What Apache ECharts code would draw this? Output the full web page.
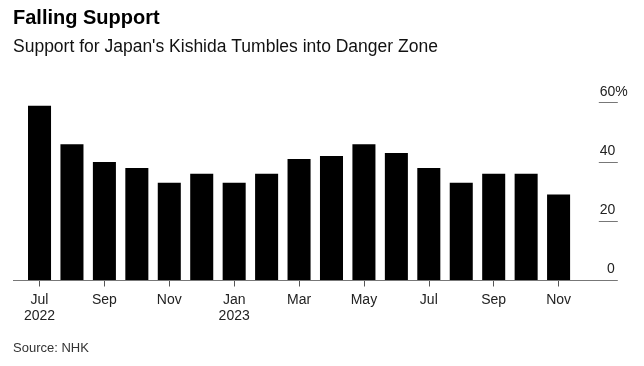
<!DOCTYPE html>
<html>
<head>
<meta charset="utf-8">
<script src="https://cdn.jsdelivr.net/npm/echarts@6/dist/echarts.min.js"></script>
<style>
html,body{margin:0;padding:0;background:#fff;}
#chart{width:644px;height:366px;}
</style>
</head>
<body>
<div id="chart"></div>
<script>
// Data
var months = ['Jul','Aug','Sep','Oct','Nov','Dec','Jan','Feb','Mar','Apr','May','Jun','Jul','Aug','Sep','Oct','Nov'];
var years  = ['2022','','','','','','2023','','','','','','','','','',''];
var support = [59,46,40,38,33,36,33,36,41,42,46,43,38,33,36,36,29];
var yTicks = [0,20,40,60];

var categories = months.map(function(m,i){ return years[i] ? m + '\n' + years[i] : m; });

var FONT = '"Liberation Sans", Arial, Helvetica, sans-serif';
var chart = echarts.init(document.getElementById('chart'), null, {renderer:'canvas'});

var option = {
  animation: false,
  backgroundColor: '#fff',
  title: [
    {text: 'Falling Support', left: 13, top: 8, padding: 0,
     textStyle: {fontFamily: FONT, fontSize: 20, fontWeight: 'bold', color: '#000'}},
    {text: "Support for Japan's Kishida Tumbles into Danger Zone", left: 13, top: 38, padding: 0,
     textStyle: {fontFamily: FONT, fontSize: 17.5, fontWeight: 'normal', color: '#111'}},
    {text: 'Source: NHK', left: 13, top: 342, padding: 0,
     textStyle: {fontFamily: FONT, fontSize: 13, fontWeight: 'normal', color: '#333'}}
  ],
  grid: {left: 23.3, right: 69.2, top: 102.7, bottom: 85.5, containLabel: false},
  xAxis: {
    type: 'category',
    data: categories,
    axisLine: {show: false},
    axisTick: {show: true, alignWithLabel: true, interval: 1, length: 6, lineStyle: {color: '#555', width: 1}},
    axisLabel: {interval: 1, margin: 12, fontFamily: FONT, fontSize: 14, lineHeight: 16, color: '#222'}
  },
  yAxis: {
    type: 'value',
    position: 'right',
    offset: 24,
    min: 0, max: 60, interval: 20,
    splitLine: {show: false},
    axisLine: {show: false},
    axisTick: {show: true, length: 19, lineStyle: {color: '#777', width: 1}},
    axisLabel: {
      align: 'left', verticalAlign: 'bottom', margin: 1,
      padding: [0,0,4,0],
      fontFamily: FONT, fontSize: 14, lineHeight: 14, color: '#222',
      formatter: function(v){
        if (v === yTicks[yTicks.length-1]) return v + '%';
        if (v === 0) return '{z|0}';
        return String(v);
      },
      rich: {z: {width: 15, align: 'right', fontFamily: FONT, fontSize: 14, lineHeight: 14, color: '#222'}}
    }
  },
  series: [{
    type: 'bar',
    data: support,
    barCategoryGap: '29%',
    itemStyle: {color: '#000'}
  }]
};
chart.setOption(option);

// Full-width baseline
var y0 = chart.convertToPixel({yAxisIndex: 0}, 0);
chart.setOption({
  graphic: [{
    type: 'line', z: 100,
    shape: {x1: 13, y1: y0, x2: 617, y2: y0},
    style: {stroke: '#777', lineWidth: 1}
  }]
});
</script>
</body>
</html>
